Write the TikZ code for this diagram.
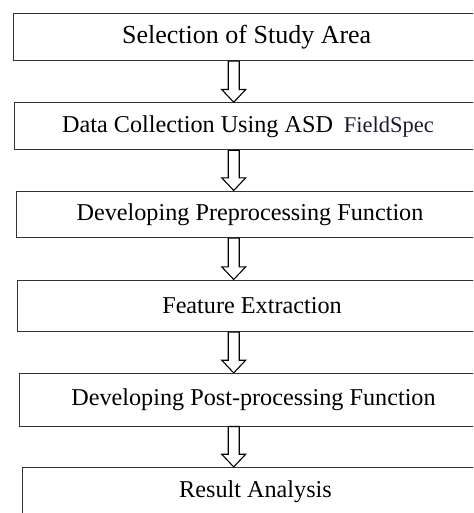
\documentclass[tikz,border=0pt]{standalone}
\usepackage{fontspec}
\setmainfont{Liberation Serif}
\usetikzlibrary{calc}

\tikzset{
  stage/.style={draw=black!80, line width=0.9pt, inner sep=0pt, font=\fontsize{24.2}{28}\selectfont},
  hollow/.style={draw=black, line width=1.1pt, fill=white, line join=miter,
    to path={let \p1=(\tikztostart), \p2=(\tikztotarget) in
      (\x1-5.5pt,\y1) -- (\x1-5.5pt,\y2+12.7pt) -- (\x1-12pt,\y2+12.7pt) -- (\x1,\y2)
      -- (\x1+12pt,\y2+12.7pt) -- (\x1+5.5pt,\y2+12.7pt) -- (\x1+5.5pt,\y1) -- cycle}}
}

\begin{document}
\begin{tikzpicture}[x=1pt, y=-1pt]
  \useasboundingbox (0,0) rectangle (473,513);
  \clip (0,0) rectangle (473,513);
  \fill[white] (0,0) rectangle (473,513);

  % process stages, each box runs past the right margin
  \node[stage, minimum width=466.7pt, minimum height=46.7pt, font=\fontsize{26}{30}\selectfont]
    (s1) at (246.7,37.3) {Selection of Study Area};
  \node[stage, minimum width=468pt, minimum height=47.3pt]
    (s2) at (248,126.3) {Data Collection Using ASD\hspace{0.45em}{\fontsize{22.5}{26}\selectfont\color[HTML]{1A1A2A}FieldSpec}};
  \node[stage, minimum width=468pt, minimum height=46.7pt]
    (s3) at (250,214.3) {Developing Preprocessing Function};
  \node[stage, minimum width=469.4pt, minimum height=51.7pt]
    (s4) at (252,305.8) {Feature Extraction};
  \node[stage, minimum width=468.4pt, minimum height=52.7pt]
    (s5) at (253.5,399.7) {Developing Post-processing Function};
  \node[stage, minimum width=465.6pt, minimum height=48.7pt]
    (s6) at (255.5,491.7) {Result Analysis};

  % axis of the hollow arrows
  \coordinate (ax) at (233.7,0);

  \draw[hollow] (s1.south -| ax) to (s2.north -| ax);
  \draw[hollow] (s2.south -| ax) to (s3.north -| ax);
  \draw[hollow] (s3.south -| ax) to (s4.north -| ax);
  \draw[hollow] (s4.south -| ax) to (s5.north -| ax);
  \draw[hollow] (s5.south -| ax) to (s6.north -| ax);
\end{tikzpicture}
\end{document}
